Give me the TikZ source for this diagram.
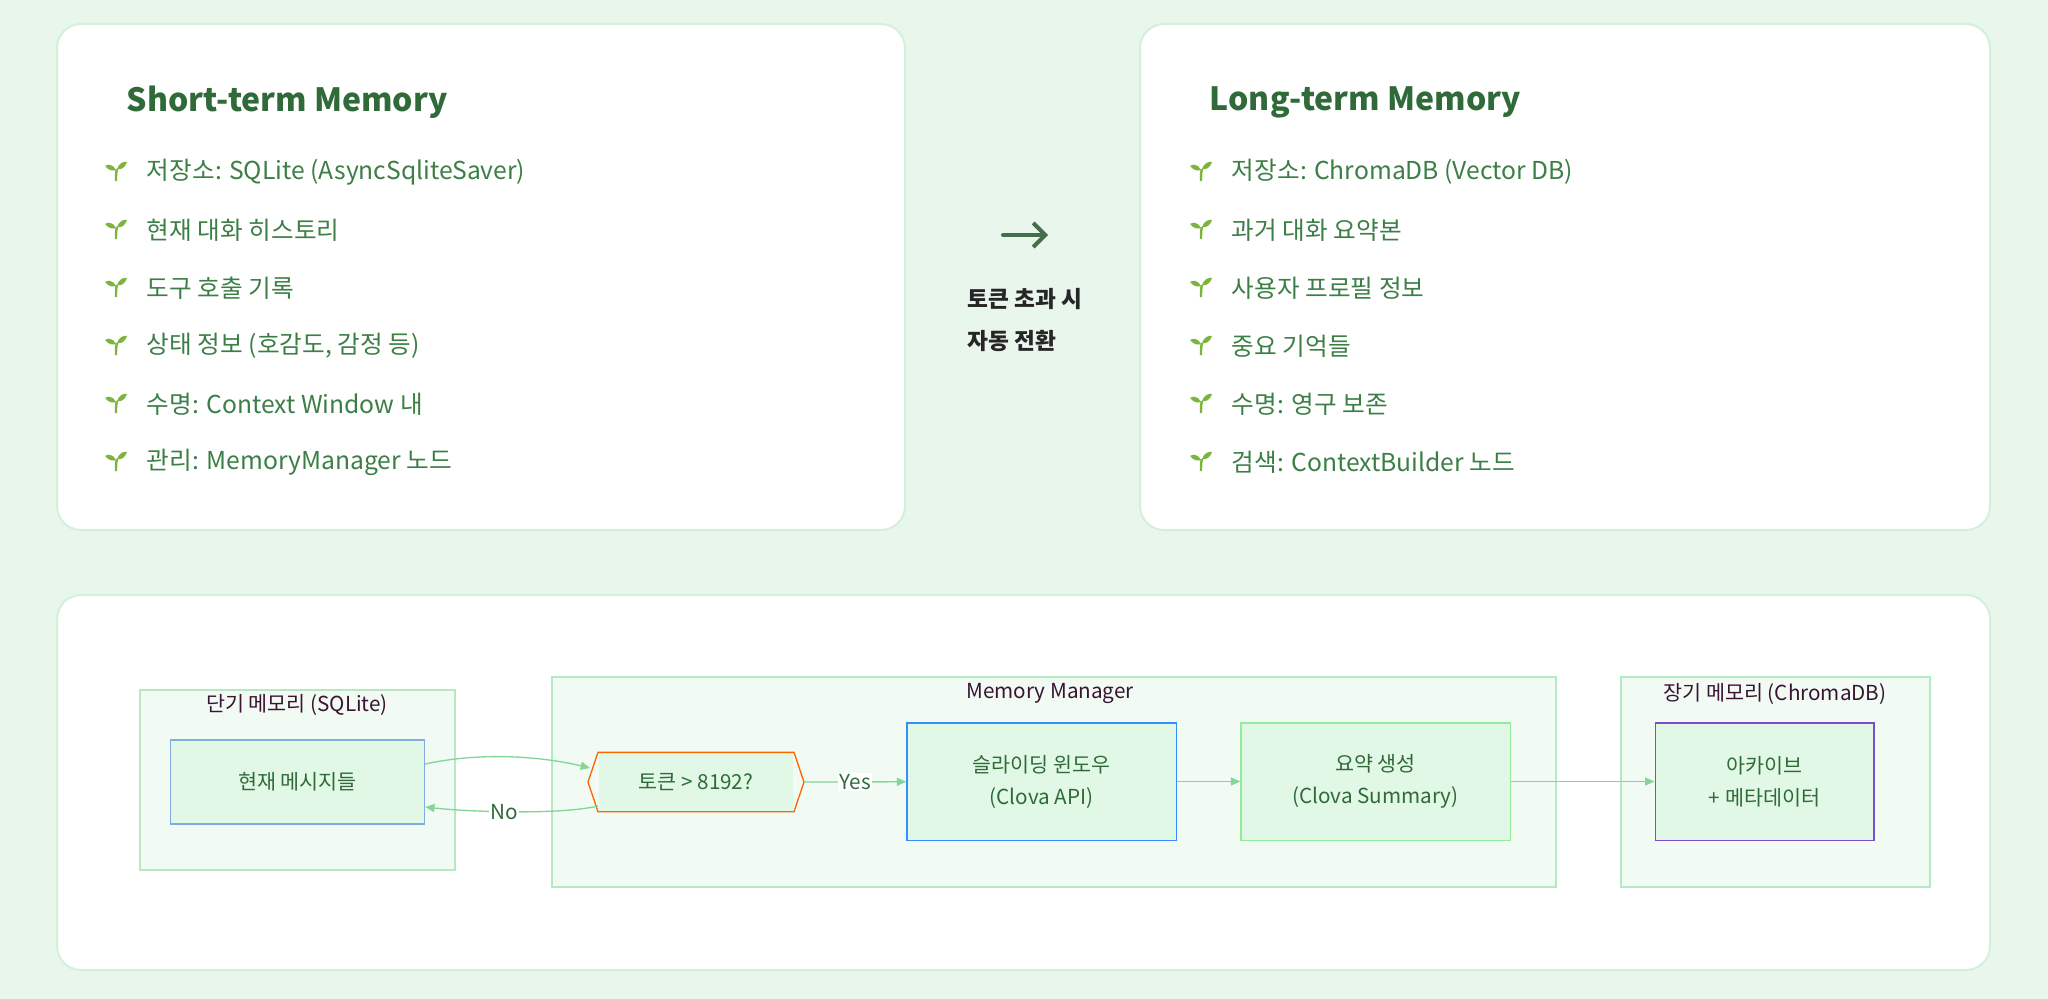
\documentclass[tikz,border=0pt]{standalone}
\usepackage{fontspec}
\setmainfont{Noto Sans CJK KR}
\usetikzlibrary{arrows.meta}
\definecolor{bgGreen}{HTML}{E9F6EC}
\definecolor{cardLine}{HTML}{D3F0DA}
\definecolor{titleGreen}{HTML}{2F6A38}
\definecolor{itemGreen}{HTML}{3C7F46}
\definecolor{leafGreen}{HTML}{7DB43E}
\definecolor{grpFill}{HTML}{F1FBF3}
\definecolor{grpLine}{HTML}{B6E8C1}
\definecolor{boxFill}{HTML}{E2F8E6}
\definecolor{flowLine}{HTML}{83D698}
\definecolor{grpText}{HTML}{3A1432}
\tikzset{every picture/.style={line width=0.75pt}}
\tikzset{
  card/.style={draw=cardLine, line width=1.5pt, fill=white, rounded corners=18pt},
  cardtitle/.style={anchor=west, text=titleGreen, font=\fontsize{24}{28}\selectfont\bfseries},
  item/.style={anchor=west, text=itemGreen, font=\fontsize{18.5}{22}\selectfont},
  grp/.style={draw=grpLine, fill=grpFill, line width=1pt},
  grplabel/.style={text=grpText, font=\fontsize{15.5}{18}\selectfont},
  proc/.style={fill=boxFill, line width=1pt, align=center, text=titleGreen, font=\fontsize{15.5}{24}\selectfont},
  flow/.style={draw=flowLine, line width=1pt, -{Triangle[length=7pt,width=6pt]}},
  flowlabel/.style={fill=white, inner sep=1pt, text=titleGreen, font=\fontsize{15.5}{18}\selectfont},
  pics/sprout/.style={code={
    \draw[leafGreen, line width=1.8pt] (0,-9) .. controls (0,-4) and (0,0) .. (1,3);
    \fill[leafGreen] (0,2) .. controls (-3,8) and (-8,8) .. (-11,6) .. controls (-7,1) and (-3,1) .. (0,2) -- cycle;
    \fill[leafGreen] (1,3) .. controls (3,9) and (8,11) .. (11,10) .. controls (9,4) and (5,2) .. (1,3) -- cycle;
  }}
}
\begin{document}
\begin{tikzpicture}[x=0.75pt,y=0.75pt,yscale=-1,xscale=1]
%background
\fill[bgGreen] (0,0) rectangle (2048,999);
\useasboundingbox (0,0) rectangle (2048,999);

%Short-term card
\draw[card] (57,24) rectangle (905,530);
\node[cardtitle] (stTitle) at (122,102) {Short-term Memory};
\foreach \txt [count=\i] in {저장소: SQLite (AsyncSqliteSaver),현재 대화 히스토리,도구 호출 기록,상태 정보 (호감도{,} 감정 등),수명: Context Window 내,관리: MemoryManager 노드}{
  \pic at (116,{114+58*\i}) {sprout};
  \node[item] (st\i) at (142,{114+58*\i}) {\txt};
}

%Long-term card
\draw[card] (1140,24) rectangle (1990,530);
\node[cardtitle] (ltTitle) at (1205,102) {Long-term Memory};
\foreach \txt [count=\i] in {저장소: ChromaDB (Vector DB),과거 대화 요약본,사용자 프로필 정보,중요 기억들,수명: 영구 보존,검색: ContextBuilder 노드}{
  \pic at (1201,{114+58*\i}) {sprout};
  \node[item] (lt\i) at (1227,{114+58*\i}) {\txt};
}

%transition arrow
\coordinate (arrA) at (1003,235);
\coordinate (arrB) at (1048,235);
\draw[titleGreen!75!gray, line width=3pt, line cap=round, -{Straight Barb[length=9pt,width=18pt,line width=3pt]}] (arrA) -- (arrB);
\node[align=left, text=black!85, font=\fontsize{17}{32}\selectfont\bfseries] (switchTxt) at (1025,320) {토큰 초과 시\\자동 전환};

%flow card
\draw[card] (57,595) rectangle (1990,970);

\draw[grp] (140,690) rectangle (455,870);
\node[grplabel] (stLabel) at (297,705) {단기 메모리 (SQLite)};
\draw[grp] (552,677) rectangle (1556,887);
\node[grplabel] (mmLabel) at (1050,694) {Memory Manager};
\draw[grp] (1621,677) rectangle (1930,887);
\node[grplabel] (ltLabel) at (1775,694) {장기 메모리 (ChromaDB)};

\node[proc, draw=cyan!55!blue!50, minimum width=190.5pt, minimum height=63pt] (msgs) at (297.5,782) {현재 메시지들};
\node[proc, minimum width=146pt, minimum height=43.5pt, inner sep=0pt] (check) at (696,782) {토큰 > 8192?};
\draw[orange!80!red, line width=1pt] (check.north west) -- (check.north east) -- ([xshift=7.5pt]check.east) -- (check.south east) -- (check.south west) -- ([xshift=-7.5pt]check.west) -- cycle;
\node[proc, draw=blue!55!cyan!80, minimum width=202pt, minimum height=88pt] (slide) at (1041.5,781.5) {슬라이딩 윈도우\\(Clova API)};
\node[proc, draw=grpLine!80!green, minimum width=202pt, minimum height=88pt] (summ) at (1375.5,781.5) {요약 생성\\(Clova Summary)};
\node[proc, draw=violet!55!blue!70, minimum width=164pt, minimum height=88pt] (archive) at (1764.5,781.5) {아카이브\\+ 메타데이터};

\draw[flow] (msgs.east |- 0,764) .. controls (480,752) and (540,756) .. ([xshift=-6pt]check.north west |- 0,768);
\draw[flow] (check.south west |- 0,806) .. controls (560,815) and (470,812) .. node[flowlabel, pos=0.55] (noLbl) {No} (msgs.east |- 0,807);
\draw[flow] ([xshift=7.5pt]check.east) -- node[flowlabel] (yesLbl) {Yes} (slide);
\draw[flow] (slide) -- (summ);
\draw[flow] (summ) -- (archive);
\end{tikzpicture}
\end{document}
